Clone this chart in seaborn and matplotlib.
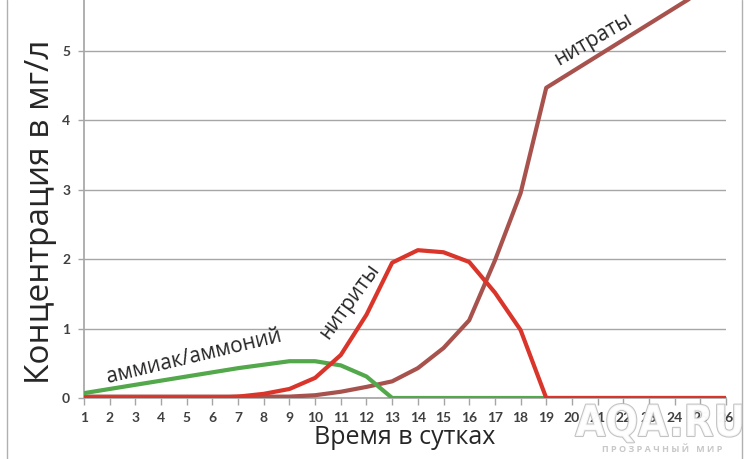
import matplotlib
matplotlib.use("Agg")
import matplotlib.pyplot as plt
import matplotlib.patheffects as pe
from matplotlib.lines import Line2D
import seaborn as sns
import pandas as pd

days = list(range(1, 27))
ammonia = [0.07, 0.13, 0.19, 0.25, 0.31, 0.37, 0.43, 0.48, 0.53, 0.53, 0.47, 0.31, 0.0,
           0, 0, 0, 0, 0, 0, 0, 0, 0, 0, 0, 0, 0]
nitrite = [0, 0, 0, 0, 0, 0, 0.02, 0.06, 0.13, 0.29, 0.62, 1.2, 1.95, 2.13, 2.1, 1.96,
           1.52, 0.98, 0, 0, 0, 0, 0, 0, 0, 0]
nitrate = [0.02, 0.02, 0.02, 0.02, 0.02, 0.02, 0.02, 0.02, 0.02, 0.04, 0.09, 0.16, 0.24,
           0.43, 0.72, 1.12, 1.98, 2.95, 4.47, 4.7, 4.93, 5.16, 5.39, 5.62, 5.85, 6.08]
yticks = [0, 1, 2, 3, 4, 5]

labels = {"аммиак/аммоний": (5.3, 0.6, 13.5),
          "нитриты": (11.35, 1.40, 54),
          "нитраты": (20.85, 5.17, 30)}

df = pd.DataFrame({"day": days, "ammonia": ammonia, "nitrite": nitrite, "nitrate": nitrate})

sns.set_theme(style="white")
plt.rcParams['font.family'] = ['Open Sans', 'DejaVu Sans']

fig = plt.figure(figsize=(7.5, 4.59), dpi=100)
ax = fig.add_axes([84/750, 1 - 398/459, (726-84)/750, 398/459])

lw = 3.0
sns.lineplot(data=df, x="day", y="nitrate", ax=ax, color="#a8524e", lw=lw, zorder=3)
sns.lineplot(data=df, x="day", y="ammonia", ax=ax, color="#52a84a", lw=lw, zorder=4)
sns.lineplot(data=df, x="day", y="nitrite", ax=ax, color="#d9352b", lw=lw, zorder=5)

ax.set_xlim(1, 26)
ax.set_ylim(0, 398/69.4)
ax.set_yticks(yticks)
ax.set_xticks(days)
ax.set_yticklabels([str(v) for v in yticks], fontsize=10, fontweight="bold",
                   color="#404040", family="Lato")
ax.set_xticklabels([str(d) for d in days], fontsize=10, fontweight="bold",
                   color="#404040", family="Lato")
ax.grid(axis="y", color="#a6a6a6", lw=1.0)
ax.set_axisbelow(True)
for s in ["top", "right"]:
    ax.spines[s].set_visible(False)
ax.spines["left"].set_color("#a6a6a6")
ax.spines["bottom"].set_color("#a6a6a6")
ax.tick_params(axis="x", length=5, color="#a6a6a6", width=1, direction="out", pad=5, bottom=True)
ax.tick_params(axis="y", length=4, color="#a6a6a6", width=1, direction="out", pad=6, left=True)

ax.set_xlabel("Время в сутках", fontsize=18, color="#262626", labelpad=1)
ax.set_ylabel("")
fig.text(41/750, 1 - 212/459, "Концентрация в мг/л", rotation=90, ha="center", va="center",
         fontsize=24, color="#262626")

for txt, (x, y, rot) in labels.items():
    ax.text(x, y, txt, rotation=rot, rotation_mode="anchor", ha="center", va="center",
            fontsize=15, color="#262626", zorder=6)

# outer chart border
fig.add_artist(Line2D([7/750, 7/750], [0, 1], color="#b0b0b0", lw=1))
fig.add_artist(Line2D([742/750, 742/750], [0, 1], color="#b0b0b0", lw=1))

# watermark
fig.text(660/750, 1 - 424/459, "AQA.RU", ha="center", va="center", fontsize=31,
         fontweight="bold", color="white", family="DejaVu Sans", fontstretch="condensed",
         path_effects=[pe.withStroke(linewidth=1.5, foreground="#b8b8b8")], zorder=10, alpha=0.85)
fig.text(662/750, 1 - 450/459, "П Р О З Р А Ч Н Ы Й   М И Р", ha="center", va="center",
         fontsize=6.5, fontweight="bold", color="#c8c8c8", zorder=10)

fig.savefig("out.png", dpi=100)
